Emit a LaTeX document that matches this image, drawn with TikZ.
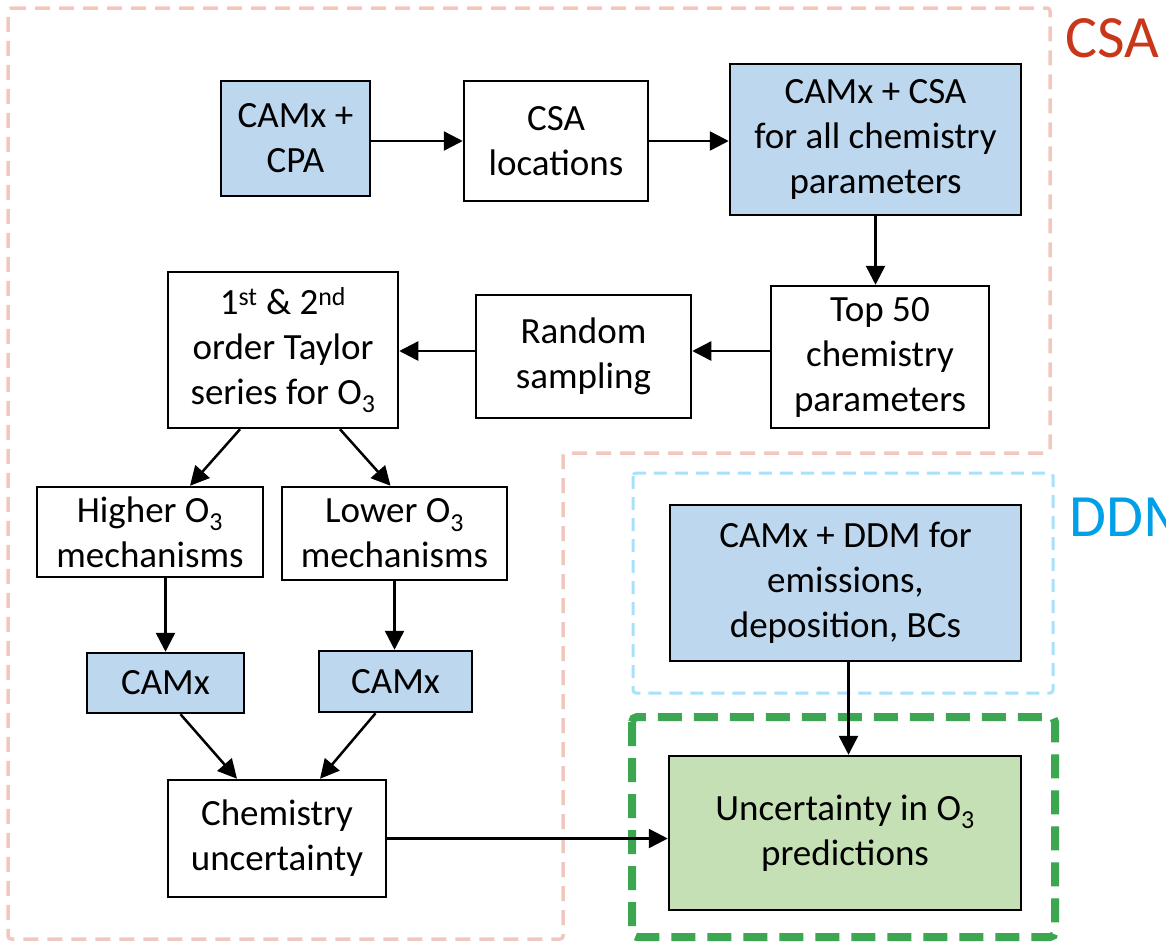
\documentclass[tikz,border=0pt]{standalone}
\usepackage{fontspec}
\setmainfont{Carlito}
\usetikzlibrary{arrows.meta}
\definecolor{boxblue}{RGB}{189,215,238}
\definecolor{boxgreen}{RGB}{197,224,180}
\definecolor{csapink}{RGB}{242,200,190}
\definecolor{ddmblue}{RGB}{170,225,250}
\definecolor{outgreen}{RGB}{60,166,80}
\definecolor{csared}{RGB}{200,55,25}
\definecolor{ddmtext}{RGB}{0,160,233}
\tikzset{
  box/.style={draw=black, line width=2.5pt, align=center, inner sep=0pt,
    font=\fontsize{37}{45}\selectfont},
  bluebox/.style={box, fill=boxblue},
  greenbox/.style={box, fill=boxgreen},
  conn/.style={line width=2.5pt, -{Triangle[length=19pt,width=19pt]}},
  csaline/.style={draw=csapink, line width=3.5pt, dash pattern=on 15pt off 9pt, rounded corners=3pt},
  ddmline/.style={draw=ddmblue, line width=3pt, dash pattern=on 13pt off 8pt, rounded corners=3pt},
  grnline/.style={draw=outgreen, line width=8pt, dash pattern=on 24pt off 12pt, rounded corners=5pt},
  lbl/.style={anchor=base west, inner sep=0pt, font=\fontsize{60}{72}\selectfont}
}
\begin{document}
\begin{tikzpicture}[x=1pt,y=-1pt]
\useasboundingbox (0,0) rectangle (1166,943);
\clip (0,0) rectangle (1166,943);
% regions
\draw[csaline] (8,8) -- (1050,8) -- (1050,453) -- (563,453) -- (563,939) -- (8,939) -- cycle;
\draw[ddmline] (633,473) rectangle (1053,693);
\draw[grnline] (632,717) rectangle (1055,937);
\node[lbl, text=csared] (csalbl) at (1065,57) {CSA};
\node[lbl, text=ddmtext] (ddmlbl) at (1069,536) {DDM};
% boxes
\node[bluebox, minimum width=149pt, minimum height=115pt] (cpa) at (295.5,138.5) {CAMx +\\CPA};
\node[box, minimum width=184pt, minimum height=120pt] (loc) at (556,141) {CSA\\locations};
\node[bluebox, minimum width=291pt, minimum height=151pt] (csa) at (875.5,139.5) {CAMx + CSA\\for all chemistry\\parameters};
\node[box, minimum width=218pt, minimum height=142pt] (top) at (880,357) {Top 50\\chemistry\\parameters};
\node[box, minimum width=215pt, minimum height=123pt] (rnd) at (583.5,356.5) {Random\\sampling};
\node[box, minimum width=230pt, minimum height=156pt] (tay) at (283,350) {1\textsuperscript{st} \& 2\textsuperscript{nd}\\order Taylor\\series for O\textsubscript{3}};
\node[box, minimum width=226pt, minimum height=90pt] (hi) at (150,532) {Higher O\textsubscript{3}\\mechanisms};
\node[box, minimum width=225pt, minimum height=93pt] (lo) at (394.5,533.5) {Lower O\textsubscript{3}\\mechanisms};
\node[bluebox, minimum width=157pt, minimum height=60pt] (c1) at (165.5,683) {CAMx};
\node[bluebox, minimum width=153pt, minimum height=61pt] (c2) at (395.5,681.5) {CAMx};
\node[box, minimum width=218pt, minimum height=117pt] (chu) at (277,838.5) {Chemistry\\uncertainty};
\node[bluebox, minimum width=351pt, minimum height=156pt] (ddm) at (845.5,583) {CAMx + DDM for\\emissions,\\deposition, BCs};
\node[greenbox, minimum width=352pt, minimum height=154pt] (unc) at (845,833) {Uncertainty in O\textsubscript{3}\\predictions};
% connectors
\draw[conn] (loc.west -| cpa.east) -- (loc.west);
\draw[conn] (loc.east) -- (loc.east -| csa.west);
\draw[conn] (csa.south) -- (csa.south |- top.north);
\draw[conn] ([yshift=6pt]top.west) -- ([yshift=6pt]top.west -| rnd.east);
\draw[conn] ([yshift=5.5pt]rnd.west) -- ([yshift=5.5pt]rnd.west -| tay.east);
\draw[conn] ([xshift=-43pt]tay.south) -- ([xshift=40pt]hi.north);
\draw[conn] ([xshift=57pt]tay.south) -- ([xshift=-4pt]lo.north);
\draw[conn] (c1.north |- hi.south) -- (c1.north);
\draw[conn] (lo.south) -- (lo.south |- c2.north);
\draw[conn] ([xshift=15pt]c1.south) -- ([xshift=-40pt]chu.north);
\draw[conn] ([xshift=-20pt]c2.south) -- ([xshift=43pt]chu.north);
\draw[conn] (chu.east) -- (chu.east -| unc.west);
\draw[conn] ([xshift=3pt]ddm.south) -- ([xshift=3pt]ddm.south |- unc.north);
\end{tikzpicture}
\end{document}
